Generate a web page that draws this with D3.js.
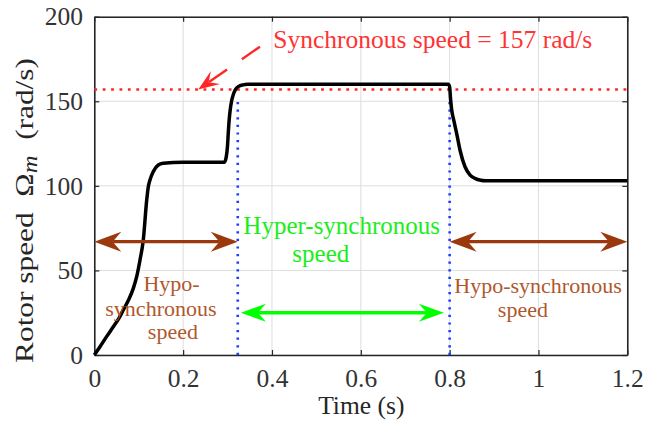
<!DOCTYPE html>
<html>
<head>
<meta charset="utf-8">
<script src="https://cdn.jsdelivr.net/npm/d3@7"></script>
<style>
  html, body { margin: 0; padding: 0; background: #fff; }
  svg { display: block; font-family: "Liberation Serif", "Times New Roman", serif; }
</style>
</head>
<body>
<svg id="chart" width="655" height="421"></svg>
<script>
// Rotor speed of the machine over time (s, rad/s)
const time  = [0, 0.0128, 0.028, 0.0428, 0.055, 0.0653, 0.077, 0.0878, 0.0954, 0.1029, 0.1103,
               0.118, 0.1216, 0.1254, 0.1328, 0.144, 0.155, 0.2, 0.25, 0.293, 0.297, 0.300,
               0.302, 0.304, 0.306, 0.309, 0.313, 0.318, 0.325, 0.335, 0.345, 0.5, 0.7, 0.797,
               0.800, 0.802, 0.8046, 0.810, 0.8158, 0.8233, 0.8346, 0.846, 0.8571, 0.870, 0.880, 1.0, 1.2];
const speed = [0, 4.9, 11, 16.7, 21.5, 26.6, 32.5, 39.4, 46.3, 56.2, 68,
               91.6, 99.5, 103.5, 108.4, 112.3, 113.3, 114, 114, 114, 117, 124,
               133, 140, 145, 150, 154, 157, 158.8, 159.7, 160, 160, 160, 160,
               158.5, 151.5, 145, 138, 131, 121.2, 111.3, 106.4, 104.4, 103.3, 103, 103, 103];

const xTicks = [0, 0.2, 0.4, 0.6, 0.8, 1, 1.2];
const xTickLabels = ["0", "0.2", "0.4", "0.6", "0.8", "1", "1.2"];
const yTicks = [0, 50, 100, 150, 200];
const yTickLabels = ["0", "50", "100", "150", "200"];

// Synchronous speed reference and operating-mode boundaries
const syncSpeed = 157;
const syncSpan = [0, 1.21];
const modeBoundaries = [0.323, 0.8];
const boundaryRange = [0, 152];

// Double-headed arrows marking each operating region: [start, end, level]
const hypoArrows = [[0, 0.323, 67], [0.8, 1.2, 67]];
const hyperArrow = [0.33, 0.787, 25];

// Pointer from the annotation to the synchronous-speed line: [tail, tip] in (s, rad/s)
const syncPointer = [[0.373, 182.3], [0.234, 157]];

const plot = { left: 94.3, right: 627.3, top: 16.7, bottom: 355 };

const svg = d3.select("#chart");
const x = d3.scaleLinear().domain([0, 1.2]).range([plot.left, plot.right]);
const y = d3.scaleLinear().domain([0, 200]).range([plot.bottom, plot.top]);

const axisColor = "#262626";
const serif = "'Liberation Serif', 'Times New Roman', serif";
const fontSize = 25.5;

// grid
const grid = svg.append("g").attr("stroke", "#dedede").attr("stroke-width", 1);
grid.selectAll(".gx").data(xTicks).join("line")
  .attr("x1", d => x(d)).attr("x2", d => x(d))
  .attr("y1", plot.top).attr("y2", plot.bottom);
grid.selectAll(".gy").data(yTicks).join("line")
  .attr("x1", plot.left).attr("x2", plot.right)
  .attr("y1", d => y(d)).attr("y2", d => y(d));

// axes (ticks point inward on all four sides)
function styleAxis(g) {
  g.attr("font-family", serif);
  g.selectAll("path.domain").attr("stroke", axisColor).attr("stroke-width", 1.6);
  g.selectAll(".tick line").attr("stroke", axisColor).attr("stroke-width", 1.2);
  g.selectAll(".tick text").attr("fill", "#333").attr("font-size", fontSize);
}
svg.append("g").attr("transform", `translate(0,${plot.bottom})`)
  .call(d3.axisBottom(x).tickValues(xTicks).tickFormat((d, i) => xTickLabels[i])
    .tickSizeInner(-5).tickSizeOuter(0).tickPadding(14.3))
  .call(styleAxis);
svg.append("g").attr("transform", `translate(${plot.left},0)`)
  .call(d3.axisLeft(y).tickValues(yTicks).tickFormat((d, i) => yTickLabels[i])
    .tickSizeInner(-5).tickSizeOuter(0).tickPadding(11.3))
  .call(styleAxis);
svg.append("g").attr("transform", `translate(0,${plot.top})`)
  .call(d3.axisTop(x).tickValues(xTicks).tickFormat("")
    .tickSizeInner(-5).tickSizeOuter(0))
  .call(styleAxis);
svg.append("g").attr("transform", `translate(${plot.right},0)`)
  .call(d3.axisRight(y).tickValues(yTicks).tickFormat("")
    .tickSizeInner(-5).tickSizeOuter(0))
  .call(styleAxis);

// axis titles
svg.append("text")
  .attr("x", (plot.left + plot.right) / 2 + 0.5).attr("y", 414)
  .attr("text-anchor", "middle").attr("font-size", fontSize).attr("fill", "#262626")
  .text("Time (s)");

// y title, drawn upright then stretched along its length to span the axis height
const ylg = svg.append("g").attr("transform", "translate(33,210.5) rotate(-90)");
const yl = ylg.append("text")
  .attr("text-anchor", "middle").attr("font-size", fontSize).attr("fill", "#262626")
  .style("white-space", "pre");
yl.append("tspan").text("Rotor speed  \u03A9");
yl.append("tspan").attr("font-style", "italic").attr("font-size", 20).attr("dy", 4).text("m");
yl.append("tspan").attr("dy", -4).text("  (rad/s)");
const ylLen = yl.node().getComputedTextLength();
yl.attr("transform", `scale(${305 / ylLen},1)`);

// mode boundaries
svg.append("g").selectAll("line").data(modeBoundaries).join("line")
  .attr("x1", d => x(d)).attr("x2", d => x(d))
  .attr("y1", y(boundaryRange[0])).attr("y2", y(boundaryRange[1]))
  .attr("stroke", "#1f3cff").attr("stroke-width", 2.6)
  .attr("stroke-dasharray", "2.2 5.4");

// synchronous speed line
svg.append("line")
  .attr("x1", x(syncSpan[0])).attr("x2", x(syncSpan[1]))
  .attr("y1", y(syncSpeed)).attr("y2", y(syncSpeed))
  .attr("stroke", "#ff2626").attr("stroke-width", 2.6)
  .attr("stroke-dasharray", "2.8 5.6");

// speed curve
const line = d3.line().x((d, i) => x(time[i])).y(d => y(d)).curve(d3.curveMonotoneX);
svg.append("path").datum(speed)
  .attr("d", line)
  .attr("fill", "none").attr("stroke", "#000").attr("stroke-width", 3.5)
  .attr("stroke-linejoin", "round");

// arrow helpers
function headPoints(tip, from, L, Wd, notch) {
  const dx = tip[0] - from[0], dy = tip[1] - from[1];
  const len = Math.hypot(dx, dy);
  const ux = dx / len, uy = dy / len, nx = -uy, ny = ux;
  const bx = tip[0] - ux * L, by = tip[1] - uy * L;
  return {
    path: `M${tip[0]},${tip[1]} L${bx + nx * Wd},${by + ny * Wd} L${tip[0] - ux * L * notch},${tip[1] - uy * L * notch} L${bx - nx * Wd},${by - ny * Wd} Z`,
    notch: [tip[0] - ux * L * notch, tip[1] - uy * L * notch]
  };
}
function doubleArrow(a, b, color, L, Wd, sw) {
  const h1 = headPoints(a, b, L, Wd, 0.68);
  const h2 = headPoints(b, a, L, Wd, 0.68);
  const g = svg.append("g");
  g.append("line").attr("x1", h1.notch[0]).attr("y1", h1.notch[1])
    .attr("x2", h2.notch[0]).attr("y2", h2.notch[1])
    .attr("stroke", color).attr("stroke-width", sw);
  g.append("path").attr("d", h1.path).attr("fill", color);
  g.append("path").attr("d", h2.path).attr("fill", color);
}

const hypoColor = "#9c390c";
hypoArrows.forEach(([t0, t1, v]) =>
  doubleArrow([x(t0), y(v)], [x(t1), y(v)], hypoColor, 27, 10, 3.4));
doubleArrow([x(hyperArrow[0]), y(hyperArrow[2])], [x(hyperArrow[1]), y(hyperArrow[2])],
  "#00ff00", 25, 9, 3.4);

// pointer to the synchronous speed line
{
  const tail = [x(syncPointer[0][0]), y(syncPointer[0][1])];
  const tip = [x(syncPointer[1][0]), y(syncPointer[1][1])];
  const h = headPoints(tip, tail, 21, 8, 0.6);
  svg.append("line").attr("x1", tail[0]).attr("y1", tail[1])
    .attr("x2", h.notch[0]).attr("y2", h.notch[1])
    .attr("stroke", "#ff2626").attr("stroke-width", 2.4)
    .attr("stroke-dasharray", "22 18");
  svg.append("path").attr("d", h.path).attr("fill", "#ff2626");
}

// annotations: [text, t, v, anchor, size, color]
const notes = [
  ["Synchronous speed = 157 rad/s", 0.403, 181.5, "start", 25.5, "#ff3333"],
  ["Hyper-synchronous", 0.557, 71.5, "middle", 25, "#1aee1a"],
  ["speed", 0.510, 55, "middle", 25, "#1aee1a"],
  ["Hypo-", 0.174, 37.6, "middle", 22, "#b0582c"],
  ["synchronous", 0.150, 23, "middle", 22, "#b0582c"],
  ["speed", 0.177, 9.6, "middle", 22, "#b0582c"],
  ["Hypo-synchronous", 0.999, 36.6, "middle", 22, "#b0582c"],
  ["speed", 0.965, 22.5, "middle", 22, "#b0582c"]
];
svg.append("g").selectAll("text").data(notes).join("text")
  .attr("x", d => x(d[1])).attr("y", d => y(d[2]))
  .attr("text-anchor", d => d[3]).attr("font-size", d => d[4]).attr("fill", d => d[5])
  .text(d => d[0]);
</script>
</body>
</html>
